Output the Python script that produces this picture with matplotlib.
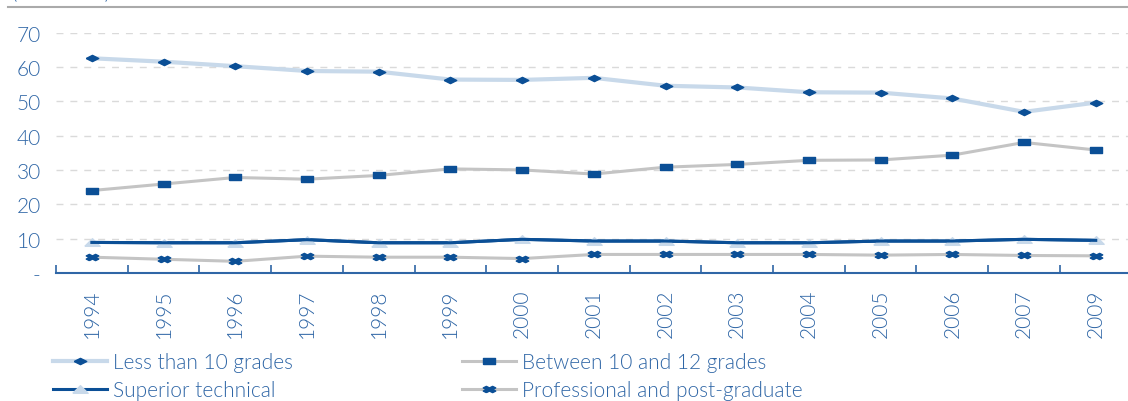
import matplotlib
matplotlib.use("Agg")
import matplotlib.pyplot as plt
from matplotlib.lines import Line2D
from matplotlib.markers import MarkerStyle
import numpy as np

years = ["1994", "1995", "1996", "1997", "1998", "1999", "2000", "2001",
         "2002", "2003", "2004", "2005", "2006", "2007", "2009"]
less10 = [62.5, 61.5, 60.2, 58.8, 58.6, 56.3, 56.2, 56.8, 54.5, 54.0, 52.6, 52.5, 50.8, 46.9, 49.6]
btw10_12 = [24.0, 25.9, 27.8, 27.3, 28.4, 30.3, 30.0, 28.8, 30.8, 31.6, 32.8, 32.9, 34.3, 38.0, 35.8]
sup_tech = [8.9, 8.8, 8.8, 9.7, 8.8, 8.8, 9.8, 9.3, 9.3, 8.8, 8.8, 9.3, 9.3, 9.8, 9.5]
prof = [4.6, 4.0, 3.4, 4.9, 4.6, 4.6, 4.2, 5.4, 5.4, 5.4, 5.4, 5.2, 5.4, 5.1, 5.0]
yticks = [0, 10, 20, 30, 40, 50, 60, 70]
ylabels = ["-", "10", "20", "30", "40", "50", "60", "70"]

plt.rcParams['font.family'] = ['Lato', 'DejaVu Sans']
plt.rcParams['font.weight'] = 300

dark = "#0b4f96"
lightblue = "#c8d9ea"
grey = "#c4c4c4"
txt = "#2f66a6"
fs = 15

# flattened marker shapes
diamond = [(-1, 0), (0, 0.5), (1, 0), (0, -0.5), (-1, 0)]
rect = [(-1, -0.55), (1, -0.55), (1, 0.55), (-1, 0.55), (-1, -0.55)]
tri = [(-1, -0.5), (1, -0.5), (0, 0.5), (-1, -0.5)]
xm = MarkerStyle('X')
xv = xm.get_transform().transform(xm.get_path().vertices)
xv[:, 1] *= 0.5

fig = plt.figure(figsize=(11.28, 4.02), dpi=100)
ax = fig.add_axes([56/1128, 1 - 274/402, (1131.6 - 56)/1128, (274 - 33.5)/402])

x = np.arange(len(years))
ax.plot(x, less10, color=lightblue, lw=3.0, marker=diamond, ms=9,
        mfc=dark, mec=dark, label="Less than 10 grades", zorder=3)
ax.plot(x, btw10_12, color=grey, lw=2.2, marker=rect, ms=8,
        mfc=dark, mec=dark, label="Between 10 and 12 grades", zorder=3)
ax.plot(x, sup_tech, color=dark, lw=2.2, marker=tri, ms=11,
        mfc=lightblue, mec=lightblue, label="Superior technical", zorder=3)
ax.plot(x, sup_tech, color=dark, lw=2.2, zorder=4)
ax.plot(x, prof, color=grey, lw=2.2, marker=xv, ms=9,
        mfc=dark, mec=dark, label="Professional and post-graduate", zorder=3)

ax.set_xlim(-0.5, len(years) - 0.5)
ax.set_ylim(0, 70)
ax.set_yticks(yticks)
ax.set_yticklabels(ylabels)
for v in yticks[1:]:
    ax.axhline(v, color="#dadada", lw=1.0, ls=(0, (5, 5)), zorder=1)

ax.set_xticks(x)
ax.set_xticklabels(years, rotation=90)
ax.set_xticks(np.arange(-0.5, len(years), 1), minor=True)
ax.tick_params(axis='x', which='major', length=0, pad=11, labelsize=fs, labelcolor=txt)
ax.tick_params(axis='x', which='minor', length=6, width=1.2, direction='in', color=txt)
ax.tick_params(axis='y', length=0, pad=11, labelsize=fs, labelcolor=txt)

for s in ['top', 'right', 'left']:
    ax.spines[s].set_visible(False)
ax.spines['bottom'].set_color(txt)
ax.spines['bottom'].set_linewidth(1.5)

fig.add_artist(Line2D([8/1128, 1], [1 - 8/402, 1 - 8/402], color="#aaaaaa", lw=1.5))
fig.text(12/1128, 1 + 1/402, "(% of total)", color=txt, fontsize=fs, va='baseline')

h, l = ax.get_legend_handles_labels()
order = [0, 2, 1, 3]
leg = fig.legend([h[i] for i in order], [l[i] for i in order], loc='upper left',
                 bbox_to_anchor=(53/1128, 1 - 353/402),
                 ncol=2, frameon=False, fontsize=fs, labelcolor=txt,
                 handlelength=2.6, handletextpad=0.3, columnspacing=8.1,
                 labelspacing=0.4, borderpad=0, borderaxespad=0)

fig.savefig("out.png", dpi=100)
